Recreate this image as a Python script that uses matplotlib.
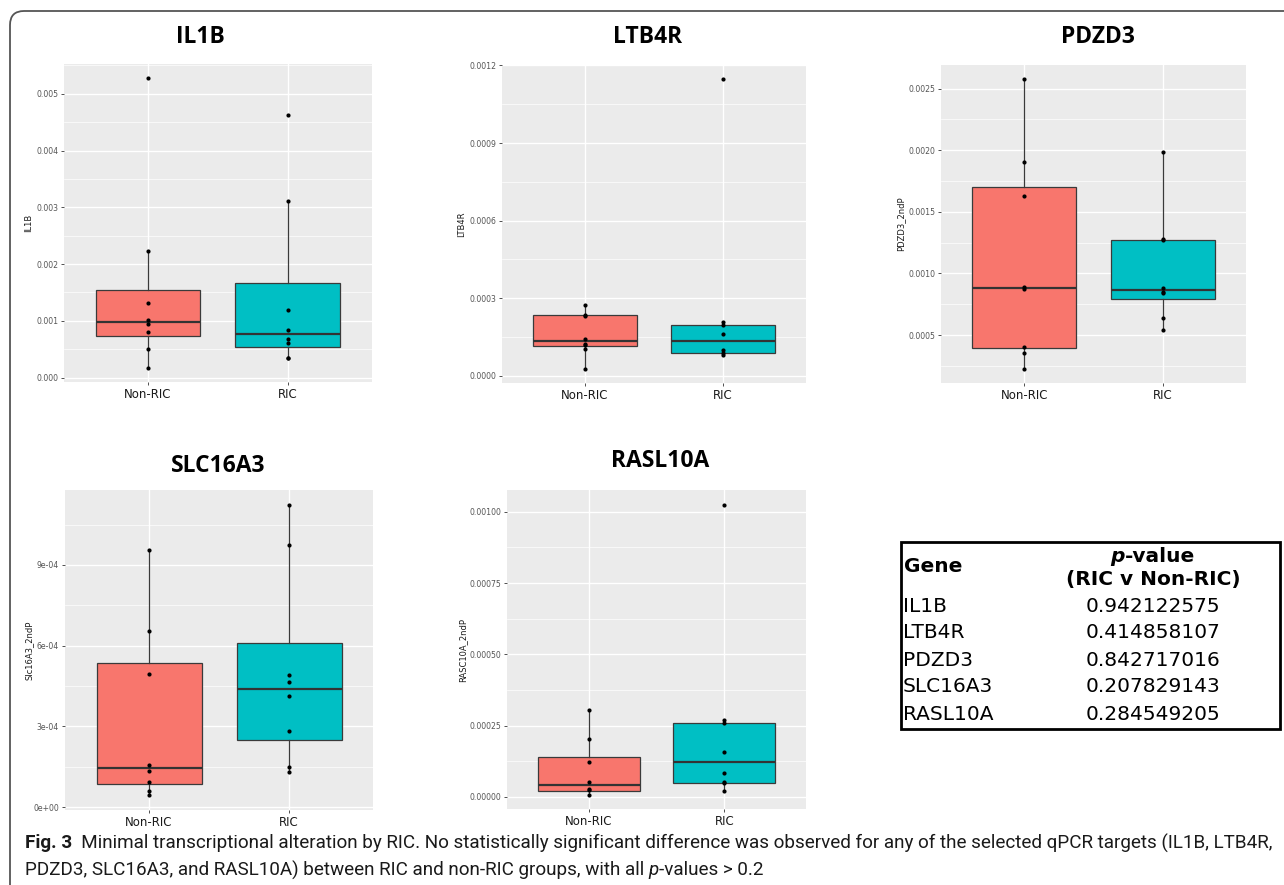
import matplotlib
matplotlib.use("Agg")
import matplotlib.pyplot as plt
from matplotlib.patches import FancyBboxPatch, Rectangle
from matplotlib.transforms import IdentityTransform
from matplotlib import font_manager
import numpy as np

# ---------------- data ----------------
groups = ["Non-RIC", "RIC"]
genes = ["IL1B", "LTB4R", "PDZD3", "SLC16A3", "RASL10A"]
y_labels = ["IL1B", "LTB4R", "PDZD3_2ndP", "Slc16A3_2ndP", "RASC10A_2ndP"]

# box stats: whislo, q1, med, q3, whishi
il1b_non_pts = [5.27e-3, 2.236e-3, 1.315e-3, 1.009e-3, 0.939e-3, 0.798e-3, 0.511e-3, 0.176e-3]
il1b_ric_pts = [4.62e-3, 3.11e-3, 1.197e-3, 0.845e-3, 0.687e-3, 0.616e-3, 0.346e-3, 0.340e-3]
il1b_non_box = [0.176e-3, 0.734e-3, 0.980e-3, 1.543e-3, 2.236e-3]
il1b_ric_box = [0.340e-3, 0.546e-3, 0.775e-3, 1.673e-3, 3.110e-3]

ltb4r_non_pts = [0.272e-3, 0.236e-3, 0.232e-3, 0.141e-3, 0.1245e-3, 0.118e-3, 0.104e-3, 0.028e-3]
ltb4r_ric_pts = [1.146e-3, 0.2066e-3, 0.1977e-3, 0.163e-3, 0.1014e-3, 0.0873e-3, 0.0809e-3]
ltb4r_non_box = [0.028e-3, 0.1142e-3, 0.1335e-3, 0.2336e-3, 0.272e-3]
ltb4r_ric_box = [0.0809e-3, 0.0873e-3, 0.1335e-3, 0.1964e-3, 0.2066e-3]

pdzd3_non_pts = [2.575e-3, 1.9025e-3, 1.628e-3, 0.890e-3, 0.8715e-3, 0.4058e-3, 0.3573e-3, 0.228e-3]
pdzd3_ric_pts = [1.986e-3, 1.2806e-3, 1.270e-3, 0.885e-3, 0.847e-3, 0.842e-3, 0.6346e-3, 0.5377e-3]
pdzd3_non_box = [0.228e-3, 0.392e-3, 0.882e-3, 1.698e-3, 2.575e-3]
pdzd3_ric_box = [0.5377e-3, 0.791e-3, 0.869e-3, 1.275e-3, 1.986e-3]

slc_non_pts = [9.558e-4, 6.53e-4, 4.965e-4, 1.5765e-4, 1.34e-4, 0.9186e-4, 0.596e-4, 0.434e-4]
slc_ric_pts = [11.247e-4, 9.745e-4, 4.916e-4, 4.655e-4, 4.146e-4, 2.83e-4, 1.477e-4, 1.303e-4]
slc_non_box = [0.434e-4, 0.844e-4, 1.465e-4, 5.35e-4, 9.558e-4]
slc_ric_box = [1.303e-4, 2.495e-4, 4.394e-4, 6.107e-4, 11.247e-4]

rasl_non_pts = [3.045e-4, 2.03e-4, 1.225e-4, 0.513e-4, 0.292e-4, 0.245e-4, 0.082e-4]
rasl_ric_pts = [10.257e-4, 2.684e-4, 2.579e-4, 1.575e-4, 0.828e-4, 0.525e-4, 0.49e-4, 0.222e-4]
rasl_non_box = [0.082e-4, 0.21e-4, 0.42e-4, 1.412e-4, 3.045e-4]
rasl_ric_box = [0.222e-4, 0.502e-4, 1.2135e-4, 2.579e-4, 2.684e-4]

il1b_ticks = [0.000, 0.001, 0.002, 0.003, 0.004, 0.005]
il1b_ticklabels = ["0.000", "0.001", "0.002", "0.003", "0.004", "0.005"]
ltb4r_ticks = [0.0, 0.0003, 0.0006, 0.0009, 0.0012]
ltb4r_ticklabels = ["0.0000", "0.0003", "0.0006", "0.0009", "0.0012"]
pdzd3_ticks = [0.0005, 0.0010, 0.0015, 0.0020, 0.0025]
pdzd3_ticklabels = ["0.0005", "0.0010", "0.0015", "0.0020", "0.0025"]
slc_ticks = [0.0, 3e-4, 6e-4, 9e-4]
slc_ticklabels = ["0e+00", "3e-04", "6e-04", "9e-04"]
rasl_ticks = [0.0, 0.00025, 0.00050, 0.00075, 0.00100]
rasl_ticklabels = ["0.00000", "0.00025", "0.00050", "0.00075", "0.00100"]

table_genes = ["IL1B", "LTB4R", "PDZD3", "SLC16A3", "RASL10A"]
table_pvalues = ["0.942122575", "0.414858107", "0.842717016", "0.207829143", "0.284549205"]

# ---------------- figure ----------------
W, H = 1284, 885
fig = plt.figure(figsize=(W / 100, H / 100), dpi=100)
fig.patch.set_facecolor("white")

avail = {f.name for f in font_manager.fontManager.ttflist}
TITLE_FONT = "Open Sans" if "Open Sans" in avail else "DejaVu Sans"
TABLE_FONT = "DejaVu Sans"
CAP_FONT = "Liberation Sans Narrow" if "Liberation Sans Narrow" in avail else (
    "Roboto" if "Roboto" in avail else "DejaVu Sans")

FILL = ["#F8766D", "#00BFC4"]


def px_rect(l, t, r, b):
    return [l / W, 1 - b / H, (r - l) / W, (b - t) / H]


def fx(x):
    return x / W


def fy(y):
    return 1 - y / H


def draw_panel(rect, non_pts, ric_pts, non_box, ric_box, ticks, ticklabels):
    ax = fig.add_axes(px_rect(*rect))
    ax.set_facecolor("#EBEBEB")
    stats = []
    for b in (non_box, ric_box):
        stats.append(dict(whislo=b[0], q1=b[1], med=b[2], q3=b[3], whishi=b[4], fliers=[]))
    bp = ax.bxp(stats, positions=[1, 2], widths=0.75, patch_artist=True,
                showfliers=False, showcaps=False,
                boxprops=dict(edgecolor="#3A3A3A", linewidth=0.9),
                medianprops=dict(color="#333333", linewidth=1.6),
                whiskerprops=dict(color="#3A3A3A", linewidth=0.9))
    for patch, c in zip(bp["boxes"], FILL):
        patch.set_facecolor(c)
        patch.set_zorder(2)
    for pos, pts in ((1, non_pts), (2, ric_pts)):
        ax.scatter([pos] * len(pts), pts, s=9, color="black", zorder=4, linewidths=0)
    allv = np.concatenate([non_pts, ric_pts, non_box, ric_box])
    lo, hi = allv.min(), allv.max()
    pad = 0.05 * (hi - lo)
    ax.set_ylim(lo - pad, hi + pad)
    ax.set_xlim(0.4, 2.6)
    ax.set_xticks([1, 2])
    ax.set_xticklabels(groups, fontsize=8.5, color="#1A1A1A")
    ax.set_yticks(ticks)
    ax.set_yticklabels(ticklabels, fontsize=5.6, color="#555555")
    step = ticks[1] - ticks[0]
    minor = np.arange(ticks[0] - step / 2, hi + pad, step / 2)
    minor = [m for m in minor if (lo - pad) < m < (hi + pad)]
    ax.set_yticks(minor, minor=True)
    ax.tick_params(axis="y", which="minor", length=0)
    ax.tick_params(axis="both", which="major", length=2.2, width=0.6, color="#333333", pad=2)
    ax.grid(which="major", color="white", linewidth=1.0)
    ax.grid(which="minor", axis="y", color="white", linewidth=0.5)
    ax.set_axisbelow(True)
    for s in ax.spines.values():
        s.set_visible(False)
    return ax


panels = [
    ((64, 64, 372, 382), il1b_non_pts, il1b_ric_pts, il1b_non_box, il1b_ric_box, il1b_ticks, il1b_ticklabels),
    ((502, 65, 806, 383), ltb4r_non_pts, ltb4r_ric_pts, ltb4r_non_box, ltb4r_ric_box, ltb4r_ticks, ltb4r_ticklabels),
    ((941, 65, 1246, 383), pdzd3_non_pts, pdzd3_ric_pts, pdzd3_non_box, pdzd3_ric_box, pdzd3_ticks, pdzd3_ticklabels),
    ((65, 490, 373, 810), slc_non_pts, slc_ric_pts, slc_non_box, slc_ric_box, slc_ticks, slc_ticklabels),
    ((507, 490, 806, 809), rasl_non_pts, rasl_ric_pts, rasl_non_box, rasl_ric_box, rasl_ticks, rasl_ticklabels),
]
title_pos = [(200, 37), (648, 37), (1098, 37), (218, 466), (660, 461)]
ylabel_x = [29, 462, 901, 29, 463]

for i, p in enumerate(panels):
    draw_panel(*p)
    rect = p[0]
    fig.text(fx(title_pos[i][0]), fy(title_pos[i][1]), genes[i], ha="center", va="center",
             fontsize=16.5, fontweight="bold", family=TITLE_FONT, color="black")
    fig.text(fx(ylabel_x[i]), fy((rect[1] + rect[3]) / 2), y_labels[i], rotation=90,
             ha="center", va="center", fontsize=6, color="#1A1A1A")

renderer = fig.canvas.get_renderer()


def draw_segments(x_px, y_px, segs, size, family, ha="left", color="#1A1A1A"):
    widths = []
    for txt, weight, style in segs:
        t = fig.text(0, 0, txt, fontsize=size, fontweight=weight, style=style, family=family)
        widths.append(t.get_window_extent(renderer=renderer).width)
        t.remove()
    total = sum(widths)
    x = x_px - total / 2 if ha == "center" else x_px
    for (txt, weight, style), w in zip(segs, widths):
        fig.text(fx(x), fy(y_px), txt, fontsize=size, fontweight=weight, style=style,
                 family=family, ha="left", va="center", color=color)
        x += w
    return total


# ---------------- table ----------------
TS = 14.5
fig.add_artist(Rectangle((fx(901), fy(729)), (1280 - 901) / W, (729 - 542) / H,
                         transform=fig.transFigure, fill=False, edgecolor="black", linewidth=2.0))
fig.text(fx(904), fy(567), "Gene", ha="left", va="center", fontsize=TS, fontweight="bold",
         family=TABLE_FONT, color="black")
draw_segments(1153, 557, [("p", "bold", "italic"), ("-value", "bold", "normal")], TS,
              TABLE_FONT, ha="center", color="black")
fig.text(fx(1153), fy(580), "(RIC v Non-RIC)", ha="center", va="center", fontsize=TS,
         fontweight="bold", family=TABLE_FONT, color="black")
row_y = [606, 633, 660, 687, 714]
for g, pv, yy in zip(table_genes, table_pvalues, row_y):
    fig.text(fx(903), fy(yy), g, ha="left", va="center", fontsize=TS, family=TABLE_FONT, color="black")
    fig.text(fx(1153), fy(yy), pv, ha="center", va="center", fontsize=TS, family=TABLE_FONT, color="black")

# ---------------- caption ----------------
line1 = [("Fig. 3", "bold", "normal"),
         ("  Minimal transcriptional alteration by RIC. No statistically significant difference was observed "
          "for any of the selected qPCR targets (IL1B, LTB4R,", "normal", "normal")]
line2 = [("PDZD3, SLC16A3, and RASL10A) between RIC and non-RIC groups, with all ", "normal", "normal"),
         ("p", "normal", "italic"), ("-values > 0.2", "normal", "normal")]
test = 10.0
w_test = 0
for txt, weight, style in line1:
    t = fig.text(0, 0, txt, fontsize=test, fontweight=weight, style=style, family=CAP_FONT)
    w_test += t.get_window_extent(renderer=renderer).width
    t.remove()
cap_size = test * (1278 - 25) / w_test
draw_segments(25, 843, line1, cap_size, CAP_FONT)
draw_segments(25, 870, line2, cap_size, CAP_FONT)

# ---------------- outer rounded border ----------------
border = FancyBboxPatch((10, -40), 1320, H - 11 + 40, boxstyle="round,pad=0,rounding_size=14",
                        transform=IdentityTransform(), fill=False, edgecolor="#555555", linewidth=1.3)
fig.add_artist(border)

fig.savefig("out.png", dpi=100)
